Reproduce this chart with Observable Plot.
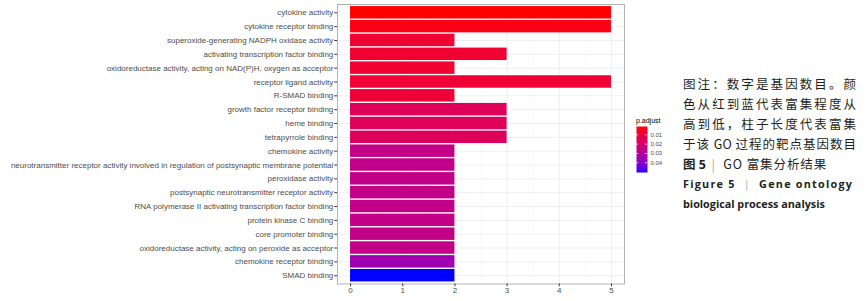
<!DOCTYPE html>
<html>
<head>
<meta charset="utf-8">
<script src="https://cdn.jsdelivr.net/npm/d3@7"></script>
<script src="https://cdn.jsdelivr.net/npm/@observablehq/plot@0.6"></script>
<style>
  html, body { margin: 0; padding: 0; background: #fff; }
  #wrap { position: relative; width: 867px; height: 301px; overflow: hidden; font-family: "Liberation Sans", Arial, sans-serif; }
  #main { position: absolute; left: 0; top: 0; }
  #legend { position: absolute; left: 636px; top: 115px; }
  #legend .title { font-size: 7px; color: #000; height: 11px; line-height: 11px; }
  #legend svg { overflow: visible; display: block; }
  #caption { position: absolute; left: 683px; top: 74px; width: 173px; color: #231f20; }
  #caption .zh { font-family: "Noto Sans CJK SC", sans-serif; font-size: 12.5px; line-height: 20px; height: 20px; text-align: justify; text-align-last: justify; white-space: nowrap; }
  #caption .b1 { font-family: "Noto Sans CJK SC", sans-serif; font-size: 12.5px; line-height: 20px; height: 20px; white-space: nowrap; }
  #caption .en { font-family: "Open Sans", sans-serif; font-weight: 700; font-size: 10.8px; line-height: 20px; height: 20px; white-space: nowrap; }
  .bar { color: #a8a8a8; font-weight: 400; }
</style>
</head>
<body>
<div id="wrap">
  <div id="main"></div>
  <div id="legend"><div class="title">p.adjust</div></div>
  <div id="caption">
    <div class="zh">图注：数字是基因数目。颜</div>
    <div class="zh">色从红到蓝代表富集程度从</div>
    <div class="zh">高到低，柱子长度代表富集</div>
    <div class="zh">于该 GO 过程的靶点基因数目</div>
    <div class="b1"><b style="font-family:'Open Sans','Noto Sans CJK SC',sans-serif;font-weight:700">图 5</b>&nbsp;&nbsp;<span class="bar">|</span>&nbsp;&nbsp;&nbsp;<span style="letter-spacing:0.9px">GO 富集分析结果</span></div>
    <div class="en" style="letter-spacing:1.25px">Figure 5&nbsp;&nbsp;<span class="bar">|</span>&nbsp;&nbsp;Gene ontology</div>
    <div class="en">biological process analysis</div>
  </div>
</div>
<script>
const terms = [
  "cytokine activity",
  "cytokine receptor binding",
  "superoxide-generating NADPH oxidase activity",
  "activating transcription factor binding",
  "oxidoreductase activity, acting on NAD(P)H, oxygen as acceptor",
  "receptor ligand activity",
  "R-SMAD binding",
  "growth factor receptor binding",
  "heme binding",
  "tetrapyrrole binding",
  "chemokine activity",
  "neurotransmitter receptor activity involved in regulation of postsynaptic membrane potential",
  "peroxidase activity",
  "postsynaptic neurotransmitter receptor activity",
  "RNA polymerase II activating transcription factor binding",
  "protein kinase C binding",
  "core promoter binding",
  "oxidoreductase activity, acting on peroxide as acceptor",
  "chemokine receptor binding",
  "SMAD binding"
];
const counts = [5, 5, 2, 3, 2, 5, 2, 3, 3, 3, 2, 2, 2, 2, 2, 2, 2, 2, 2, 2];
const padjust = [0.0011, 0.0028, 0.0075, 0.0075, 0.0075, 0.0085, 0.0085, 0.0155, 0.0155, 0.0160,
                 0.0255, 0.0255, 0.0255, 0.0255, 0.0255, 0.0255, 0.0255, 0.0255, 0.0345, 0.0504];
const xTicks = [0, 1, 2, 3, 4, 5];
const legendTicks = [0.01, 0.02, 0.03, 0.04];

const data = terms.map((t, i) => ({term: t, count: counts[i], p: padjust[i]}));
const pExtent = d3.extent(padjust);
const colorOpts = {type: "linear", domain: pExtent, range: ["red", "blue"], interpolate: "lab"};

const axisText = "#4d4d4d";
const main = Plot.plot({
  width: 630,
  height: 301,
  marginLeft: 337,
  marginRight: 6,
  marginTop: 4,
  marginBottom: 17.5,
  style: {fontFamily: "Liberation Sans, Arial, sans-serif", fontSize: "8px", background: "#fff", overflow: "visible"},
  x: {domain: [-0.25, 5.25], label: null},
  y: {domain: terms, paddingInner: 0.1, paddingOuter: 0.15, round: false, label: null},
  color: colorOpts,
  marks: [
    Plot.ruleX([0.5, 1.5, 2.5, 3.5, 4.5], {stroke: "#f2f2f2", strokeWidth: 0.5}),
    Plot.ruleX(xTicks, {stroke: "#ebebeb", strokeWidth: 0.8}),
    Plot.ruleY(terms, {y: d => d, stroke: "#ebebeb", strokeWidth: 0.8}),
    Plot.barX(data, {y: "term", x: "count", fill: "p"}),
    Plot.frame({stroke: "#b3b3b3", strokeWidth: 1}),
    Plot.axisX({ticks: xTicks, tickFormat: d => String(d), tickSize: 2.7, tickPadding: 1, fill: axisText, stroke: "#333", label: null}),
    Plot.axisY({tickSize: 2.7, tickPadding: 1.5, fill: axisText, stroke: "#333", label: null})
  ]
});
document.getElementById("main").appendChild(main);

const legend = Plot.plot({
  width: 40,
  height: 46,
  marginLeft: 0,
  marginRight: 29,
  marginTop: 0,
  marginBottom: 0,
  style: {fontFamily: "Liberation Sans, Arial, sans-serif", fontSize: "6px", background: "transparent", overflow: "visible"},
  x: {domain: [0, 1], axis: null},
  y: {domain: pExtent, reverse: true, label: null},
  color: colorOpts,
  marks: [
    Plot.raster({x1: 0, x2: 1, y1: pExtent[0], y2: pExtent[1], width: 1, height: 120, fill: (x, y) => y}),
    Plot.ruleY(legendTicks, {x1: 0, x2: 0.2, stroke: "white", strokeWidth: 0.7}),
    Plot.ruleY(legendTicks, {x1: 0.8, x2: 1, stroke: "white", strokeWidth: 0.7}),
    Plot.axisY({ticks: legendTicks, tickFormat: d => d.toFixed(2), anchor: "right", tickSize: 0, tickPadding: 3, fill: axisText, label: null})
  ]
});
document.getElementById("legend").appendChild(legend);
</script>
</body>
</html>
